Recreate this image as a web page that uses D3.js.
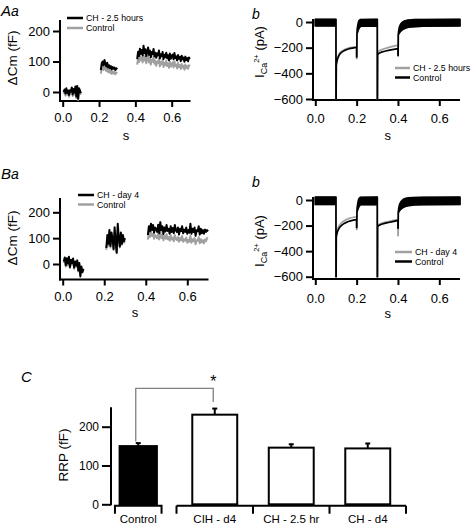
<!DOCTYPE html>
<html><head><meta charset="utf-8">
<script src="https://cdn.jsdelivr.net/npm/d3@7"></script>
<style>
body{margin:0;background:#fff}
svg text{font-family:"Liberation Sans",Arial,Helvetica,sans-serif;fill:#000}
</style>
</head><body>
<svg id="c" width="472" height="525" xmlns="http://www.w3.org/2000/svg"></svg>
<script>
// ---------------- DATA ----------------
const capStep = 0.005;
const capSegStarts = [0.005, 0.21, 0.41];
// Panel Aa: ΔCm (fF), three recording segments
const capA_CH = [
  [0, 8, -5, 12, -3, 5, -10, 6, 2, 15, -8, 10, -2, 18, -15, 20, -22, 12, 5, -4],
  [72, 95, 100, 88, 105, 92, 84, 96, 80, 88, 78, 85, 74, 82, 76, 80, 72, 78, 74],
  [108, 132, 118, 142, 125, 138, 120, 152, 128, 140, 118, 134, 146, 122, 136, 114, 131, 124, 141, 117,
   129, 112, 127, 120, 136, 110, 124, 117, 131, 108, 122, 114, 129, 111, 121, 104, 126, 109, 119, 123,
   107, 128, 111, 117, 103, 121, 109, 115, 101, 119, 107, 113, 99, 116, 105, 111, 101, 113, 108]
];
const capA_Control = [
  [-6, 3, -12, 6, -9, 0, -16, 4, -6, 8, -13, 5, -9, 10, -20, 7, -26, 4, -3, -9],
  [60, 78, 84, 72, 88, 76, 69, 80, 65, 72, 63, 70, 59, 67, 61, 66, 58, 64, 61],
  [90, 110, 98, 118, 104, 114, 97, 124, 103, 115, 94, 108, 121, 97, 111, 90, 106, 99, 116, 93,
   103, 86, 100, 95, 110, 84, 98, 91, 106, 82, 96, 88, 103, 85, 94, 79, 99, 83, 92, 97,
   80, 101, 85, 90, 77, 95, 82, 88, 75, 92, 80, 86, 73, 90, 79, 85, 76, 88, 84]
];
// Panel Ba
const capB_CH = [
  [10, 25, -5, 22, 2, 28, -12, 16, 4, 21, -14, 10, -6, 14, -25, 4, -48, -10, -32, -18],
  [62, 112, 78, 132, 70, 122, 96, 58, 142, 86, 44, 156, 100, 68, 122, 78, 112, 88, 100],
  [112, 146, 126, 156, 131, 151, 121, 141, 136, 124, 152, 119, 162, 131, 146, 116, 141, 126, 151, 128,
   136, 117, 146, 124, 139, 119, 151, 130, 124, 141, 114, 136, 127, 146, 119, 133, 124, 141, 117, 131,
   121, 156, 117, 136, 124, 141, 109, 131, 127, 146, 114, 136, 119, 131, 117, 133, 124, 131, 126]
];
const capB_Control = [
  [4, 16, -10, 12, -6, 18, -16, 8, -1, 12, -19, 5, -11, 6, -29, -1, -42, -16, -26, -22],
  [55, 96, 70, 116, 64, 106, 86, 54, 122, 78, 42, 136, 90, 64, 106, 74, 98, 82, 90],
  [94, 118, 104, 126, 108, 116, 98, 112, 106, 99, 119, 95, 123, 101, 113, 92, 108, 98, 116, 96,
   104, 90, 111, 95, 102, 88, 112, 97, 92, 104, 86, 101, 92, 108, 86, 96, 90, 102, 82, 94,
   86, 110, 82, 96, 88, 100, 76, 92, 90, 104, 80, 96, 84, 92, 80, 95, 88, 100, 98]
];

// Ca2+ currents (pA): rows are [time s, lower envelope, upper envelope]
const curA_Control = [[0,-30,20],[0.1,-30,20],[0.1,-600,-600],[0.1008,-600,-600],[0.1015,-335,-335],[0.104,-312,-312],[0.107,-292,-292],[0.11,-277,-277],[0.115,-260,-260],[0.12,-247,-247],[0.13,-233,-233],[0.14,-223,-223],[0.15,-216,-216],[0.16,-210,-210],[0.17,-206,-206],[0.18,-203,-203],[0.19,-200,-200],[0.2,-198,-198],[0.2,-272,-272],[0.2008,-272,-272],[0.2015,-95,-95],[0.203,-85,-60],[0.206,-70,-25],[0.21,-52,5],[0.215,-40,15],[0.22,-33,19],[0.3,-30,20],[0.3,-600,-600],[0.3008,-600,-600],[0.3015,-256,-256],[0.305,-248,-248],[0.31,-242,-242],[0.32,-235,-235],[0.34,-226,-226],[0.36,-219,-219],[0.38,-213,-213],[0.4,-208,-208],[0.4,-262,-262],[0.4008,-262,-262],[0.4015,-100,-100],[0.404,-92,-65],[0.408,-82,-35],[0.415,-68,-12],[0.425,-56,2],[0.435,-48,10],[0.45,-41,15],[0.48,-36,18],[0.52,-33,19],[0.7,-31,20]];
const curA_CH = [[0,-30,20],[0.1,-30,20],[0.1,-600,-600],[0.1008,-600,-600],[0.1015,-320,-320],[0.104,-298,-298],[0.107,-280,-280],[0.11,-266,-266],[0.115,-250,-250],[0.12,-238,-238],[0.13,-225,-225],[0.14,-216,-216],[0.15,-209,-209],[0.16,-204,-204],[0.17,-200,-200],[0.18,-197,-197],[0.19,-195,-195],[0.2,-193,-193],[0.2,-285,-285],[0.2008,-285,-285],[0.2015,-95,-95],[0.203,-85,-60],[0.206,-70,-25],[0.21,-52,5],[0.215,-40,15],[0.22,-33,19],[0.3,-30,20],[0.3,-600,-600],[0.3008,-600,-600],[0.3015,-238,-238],[0.305,-230,-230],[0.31,-224,-224],[0.32,-216,-216],[0.34,-205,-205],[0.36,-196,-196],[0.38,-188,-188],[0.4,-180,-180],[0.4,-250,-250],[0.4008,-250,-250],[0.4015,-100,-100],[0.404,-92,-65],[0.408,-82,-35],[0.415,-68,-12],[0.425,-56,2],[0.435,-48,10],[0.45,-41,15],[0.48,-36,18],[0.52,-33,19],[0.7,-31,20]];
const curB_Control = [[0,-35,22],[0.1,-35,22],[0.1,-600,-600],[0.1008,-600,-600],[0.1015,-290,-290],[0.104,-268,-268],[0.107,-250,-250],[0.11,-237,-237],[0.115,-222,-222],[0.12,-210,-210],[0.13,-195,-195],[0.14,-183,-183],[0.15,-175,-175],[0.16,-168,-168],[0.17,-163,-163],[0.18,-159,-159],[0.19,-156,-156],[0.2,-153,-153],[0.2,-215,-215],[0.2008,-215,-215],[0.2015,-95,-95],[0.203,-85,-60],[0.206,-72,-25],[0.21,-55,5],[0.215,-42,17],[0.22,-37,21],[0.3,-35,22],[0.3,-600,-600],[0.3008,-600,-600],[0.3015,-208,-208],[0.305,-202,-202],[0.31,-197,-197],[0.32,-190,-190],[0.34,-181,-181],[0.36,-174,-174],[0.38,-167,-167],[0.4,-160,-160],[0.4,-220,-220],[0.4008,-220,-220],[0.4015,-100,-100],[0.404,-92,-65],[0.408,-82,-35],[0.415,-70,-12],[0.425,-58,3],[0.435,-50,11],[0.45,-44,16],[0.48,-39,19],[0.52,-37,21],[0.7,-35,22]];
const curB_CH = [[0,-35,22],[0.1,-35,22],[0.1,-600,-600],[0.1008,-600,-600],[0.1015,-275,-275],[0.104,-250,-250],[0.107,-232,-232],[0.11,-218,-218],[0.115,-202,-202],[0.12,-190,-190],[0.13,-174,-174],[0.14,-162,-162],[0.15,-153,-153],[0.16,-146,-146],[0.17,-141,-141],[0.18,-137,-137],[0.19,-134,-134],[0.2,-131,-131],[0.2,-230,-230],[0.2008,-230,-230],[0.2015,-95,-95],[0.203,-85,-60],[0.206,-72,-25],[0.21,-55,5],[0.215,-42,17],[0.22,-37,21],[0.3,-35,22],[0.3,-600,-600],[0.3008,-600,-600],[0.3015,-200,-200],[0.305,-194,-194],[0.31,-189,-189],[0.32,-182,-182],[0.34,-173,-173],[0.36,-166,-166],[0.38,-160,-160],[0.4,-154,-154],[0.4,-278,-278],[0.4008,-278,-278],[0.4015,-100,-100],[0.404,-92,-65],[0.408,-82,-35],[0.415,-70,-12],[0.425,-58,3],[0.435,-50,11],[0.45,-44,16],[0.48,-39,19],[0.52,-37,21],[0.7,-35,22]];

// Panel C: readily releasable pool
const barCats = ["Control", "CIH - d4", "CH - 2.5 hr", "CH - d4"];
const barMeans = [150, 231, 146, 144];
const barErrs = [9, 17, 10, 14];

// ticks
const timeTicks = [0, 0.2, 0.4, 0.6];
const capTicks = [0, 100, 200];
const curTicks = [0, -200, -400, -600];
const rrpTicks = [0, 100, 200];

// ---------------- DRAWING ----------------
const svg = d3.select("#c");
const BLACK = "#000", GRAY = "#a0a0a0";
const FONT = '"Liberation Sans",Arial,Helvetica,sans-serif';

function styleAxis(g, fs) {
  g.select(".domain").remove();
  g.selectAll(".tick line").attr("stroke", BLACK).attr("stroke-width", 2);
  g.selectAll(".tick text").attr("font-size", fs).attr("font-family", FONT).attr("fill", BLACK);
}

function frame(x, y, o) {
  const g = svg.append("g");
  g.append("line").attr("x1", o.ax).attr("x2", o.ax).attr("y1", o.top).attr("y2", o.ay + 1)
    .attr("stroke", BLACK).attr("stroke-width", 2);
  g.append("line").attr("x1", o.ax - 1).attr("x2", o.right).attr("y1", o.ay).attr("y2", o.ay)
    .attr("stroke", BLACK).attr("stroke-width", 2);
  const gx = g.append("g").attr("transform", `translate(0,${o.ay})`)
    .call(d3.axisBottom(x).tickValues(timeTicks).tickFormat(d3.format(".1f")).tickSize(6).tickPadding(o.xpad));
  styleAxis(gx, 13);
  const gy = g.append("g").attr("transform", `translate(${o.ax},0)`)
    .call(d3.axisLeft(y).tickValues(o.yticks).tickFormat(d3.format("d")).tickSize(7).tickPadding(3));
  styleAxis(gy, 13);
  g.append("text").attr("x", o.sx).attr("y", o.sy).attr("text-anchor", "middle").attr("font-size", 13).text("s");
  return g;
}

function legend(o, items) {
  items.forEach((it, i) => {
    const yy = o.y + i * o.dy;
    svg.append("line").attr("x1", o.x).attr("x2", o.x + o.len).attr("y1", yy).attr("y2", yy)
      .attr("stroke", it.c).attr("stroke-width", 2.5);
    svg.append("text").attr("x", o.x + o.len + 3).attr("y", yy + 3.2).attr("font-size", 8.8).text(it.t);
  });
}

function capPanel(series, o) {
  const x = d3.scaleLinear().domain([0, 0.6]).range(o.xr);
  const y = d3.scaleLinear().domain([0, 200]).range(o.yr);
  frame(x, y, Object.assign({ yticks: capTicks }, o));
  const line = d3.line().x(d => x(d[0])).y(d => y(d[1]));
  series.forEach(s => {
    s.data.forEach((seg, k) => {
      const pts = seg.map((v, i) => [capSegStarts[k] + i * capStep, v]);
      svg.append("path").attr("d", line(pts)).attr("fill", "none").attr("stroke", s.c)
        .attr("stroke-width", 2).attr("stroke-linejoin", "round");
    });
  });
  svg.append("text").attr("transform", `translate(${o.lx},${o.ly}) rotate(-90)`)
    .attr("text-anchor", "middle").attr("font-size", 13.5).text("ΔCm (fF)");
}

function curPanel(series, o) {
  const x = d3.scaleLinear().domain([0, 0.6]).range(o.xr);
  const y = d3.scaleLinear().domain([0, -600]).range(o.yr);
  frame(x, y, Object.assign({ yticks: curTicks }, o));
  const area = d3.area().x(d => x(d[0])).y0(d => y(d[1])).y1(d => y(d[2]));
  series.forEach(s => {
    svg.append("path").attr("d", area(s.data)).attr("fill", s.c).attr("stroke", s.c)
      .attr("stroke-width", 1.7).attr("stroke-linejoin", "round");
  });
  const t = svg.append("text").attr("transform", `translate(${o.lx},${o.ly}) rotate(-90)`)
    .attr("text-anchor", "middle").attr("font-size", 13);
  t.append("tspan").text("I");
  t.append("tspan").attr("font-size", 9).attr("dy", 3).text("Ca");
  t.append("tspan").attr("font-size", 7.5).attr("dy", -8).text("2+");
  t.append("tspan").attr("dy", 5).text(" (pA)");
}

function panelLabel(x, y, big, small) {
  const t = svg.append("text").attr("x", x).attr("y", y).attr("font-style", "italic");
  if (big) t.append("tspan").attr("font-size", 15).text(big);
  t.append("tspan").attr("font-size", 14).text(small);
}

// Panel Aa
capPanel([{ c: GRAY, data: capA_Control }, { c: BLACK, data: capA_CH }],
  { xr: [62.7, 171.7], yr: [92, 31], ax: 60, ay: 101, top: 20, right: 190.5, xpad: 5.5,
    sx: 126, sy: 139.5, lx: 17, ly: 58 });
legend({ x: 67, y: 18, dy: 10, len: 16 }, [{ c: BLACK, t: "CH - 2.5 hours" }, { c: GRAY, t: "Control" }]);
panelLabel(1, 16, "A", "a");

// Panel Ab
curPanel([{ c: GRAY, data: curA_CH }, { c: BLACK, data: curA_Control }],
  { xr: [315.3, 439.3], yr: [22, 99], ax: 313, ay: 100, top: 19, right: 460, xpad: 7.5,
    sx: 387.7, sy: 140, lx: 264, ly: 52 });
legend({ x: 395, y: 68, dy: 9.5, len: 15 }, [{ c: GRAY, t: "CH - 2.5 hours" }, { c: BLACK, t: "Control" }]);
panelLabel(252, 19, null, "b");

// Panel Ba
capPanel([{ c: GRAY, data: capB_Control }, { c: BLACK, data: capB_CH }],
  { xr: [62.7, 187.3], yr: [264, 212.3], ax: 60, ay: 279.5, top: 198, right: 208.5, xpad: 6.5,
    sx: 135, sy: 316.7, lx: 17, ly: 238 });
legend({ x: 78, y: 195, dy: 9.5, len: 16 }, [{ c: BLACK, t: "CH - day 4" }, { c: GRAY, t: "Control" }]);
panelLabel(1, 179, "B", "a");

// Panel Bb
curPanel([{ c: GRAY, data: curB_CH }, { c: BLACK, data: curB_Control }],
  { xr: [315.3, 439.3], yr: [200, 276.7], ax: 313, ay: 279, top: 197, right: 460, xpad: 8.5,
    sx: 387.7, sy: 318.3, lx: 264, ly: 241 });
legend({ x: 395, y: 252, dy: 9.5, len: 17 }, [{ c: GRAY, t: "CH - day 4" }, { c: BLACK, t: "Control" }]);
panelLabel(252, 187, null, "b");

// Panel C
(function () {
  const x = d3.scaleBand().domain(barCats).range([100, 406]).paddingInner(0.4125).paddingOuter(0.20625);
  const y = d3.scaleLinear().domain([0, 200]).range([504.3, 426.7]);
  const cx = d => x(d) + x.bandwidth() / 2;
  const g = svg.append("g");
  g.append("line").attr("x1", 111).attr("x2", 111).attr("y1", y(250)).attr("y2", y(0) + 1)
    .attr("stroke", BLACK).attr("stroke-width", 2);
  const gy = g.append("g").attr("transform", "translate(111,0)")
    .call(d3.axisLeft(y).tickValues(rrpTicks).tickSize(9).tickPadding(3));
  styleAxis(gy, 12);
  svg.append("text").attr("transform", "translate(68,455) rotate(-90)").attr("text-anchor", "middle")
    .attr("font-size", 13.5).text("RRP (fF)");
  const step = x.step();
  const by = 505.7;
  const c0 = cx(barCats[0]);
  const brk1 = [c0 - 23.3, c0 + 23.3];
  const bnds = barCats.slice(1).map(c => cx(c) - step / 2).concat([cx(barCats[3]) + step / 2]);
  g.append("path").attr("d", `M${brk1[0]},${by + 8}V${by}H${brk1[1]}V${by + 8}`)
    .attr("fill", "none").attr("stroke", BLACK).attr("stroke-width", 2);
  let d2 = `M${bnds[0]},${by}H${bnds[bnds.length - 1]}`;
  bnds.forEach(b => { d2 += `M${b},${by}V${by + 8}`; });
  g.append("path").attr("d", d2).attr("fill", "none").attr("stroke", BLACK).attr("stroke-width", 2);
  barCats.forEach(c => {
    svg.append("text").attr("x", cx(c)).attr("y", 523).attr("text-anchor", "middle")
      .attr("font-size", 11.5).text(c);
  });
  barCats.forEach((c, i) => {
    const w = i === 0 ? x.bandwidth() * 0.83 : x.bandwidth();
    const xc = cx(c);
    g.append("line").attr("x1", xc).attr("x2", xc).attr("y1", y(barMeans[i])).attr("y2", y(barMeans[i] + barErrs[i]))
      .attr("stroke", BLACK).attr("stroke-width", 2);
    g.append("line").attr("x1", xc - 2.5).attr("x2", xc + 2.5).attr("y1", y(barMeans[i] + barErrs[i]) + 0.5)
      .attr("y2", y(barMeans[i] + barErrs[i]) + 0.5).attr("stroke", BLACK).attr("stroke-width", 2);
    g.append("rect").attr("x", xc - w / 2).attr("y", y(barMeans[i])).attr("width", w)
      .attr("height", y(0) - y(barMeans[i])).attr("fill", i === 0 ? BLACK : "#fff")
      .attr("stroke", BLACK).attr("stroke-width", 2);
  });
  const xa = cx(barCats[0]) - 2.5, xb = cx(barCats[1]) - 1.5;
  const ytop = 388.3;
  g.append("path")
    .attr("d", `M${xa},${y(barMeans[0] + barErrs[0]) - 1}V${ytop}H${xb}V${y(barMeans[1] + barErrs[1]) - 6}`)
    .attr("fill", "none").attr("stroke", "#808080").attr("stroke-width", 1.3);
  svg.append("text").attr("x", xb).attr("y", 387).attr("text-anchor", "middle").attr("font-size", 16).text("*");
  svg.append("text").attr("x", 21).attr("y", 381.7).attr("font-style", "italic").attr("font-size", 15).text("C");
})();
</script>
</body></html>
